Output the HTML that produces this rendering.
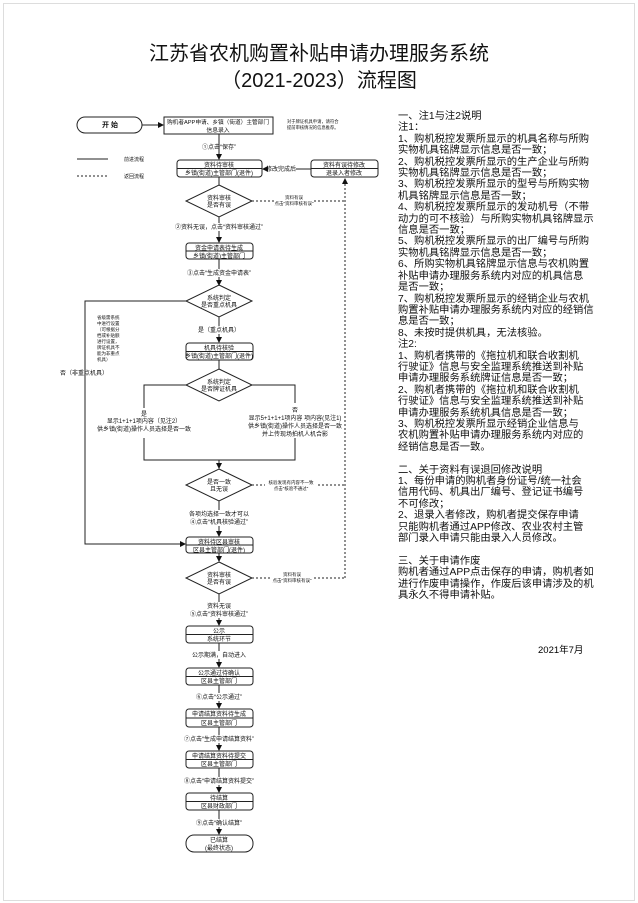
<!DOCTYPE html>
<html><head><meta charset="utf-8"><style>
html,body{margin:0;padding:0;background:#fff;}
body{width:638px;height:903px;position:relative;overflow:hidden;font-family:"Liberation Sans","Noto Sans CJK SC",sans-serif;}
.frame{position:absolute;left:3px;top:3px;width:630px;height:896px;border:1px solid #ddd;}
.t1{position:absolute;left:0;width:638px;text-align:center;font-size:20px;color:#111;}
.notes{position:absolute;left:398px;top:111px;width:215px;font-size:10.3px;line-height:11.4px;color:#111;white-space:pre;}
</style></head><body>
<div class="frame"></div>
<div class="t1" style="top:37px;">江苏省农机购置补贴申请办理服务系统</div>
<div class="t1" style="top:64px;">（2021-2023）流程图</div>
<div class="notes">一、注1与注2说明
注1：
1、购机税控发票所显示的机具名称与所购
实物机具铭牌显示信息是否一致；
2、购机税控发票所显示的生产企业与所购
实物机具铭牌显示信息是否一致；
3、购机税控发票所显示的型号与所购实物
机具铭牌显示信息是否一致；
4、购机税控发票所显示的发动机号（不带
动力的可不核验）与所购实物机具铭牌显示
信息是否一致；
5、购机税控发票所显示的出厂编号与所购
实物机具铭牌显示信息是否一致；
6、所购实物机具铭牌显示信息与农机购置
补贴申请办理服务系统内对应的机具信息
是否一致；
7、购机税控发票所显示的经销企业与农机
购置补贴申请办理服务系统内对应的经销信
息是否一致；
8、未按时提供机具，无法核验。
注2:
1、购机者携带的《拖拉机和联合收割机
行驶证》信息与安全监理系统推送到补贴
申请办理服务系统牌证信息是否一致；
2、购机者携带的《拖拉机和联合收割机
行驶证》信息与安全监理系统推送到补贴
申请办理服务系统机具信息是否一致；
3、购机税控发票所显示经销企业信息与
农机购置补贴申请办理服务系统内对应的
经销信息是否一致。

二、关于资料有误退回修改说明
1、每份申请的购机者身份证号/统一社会
信用代码、机具出厂编号、登记证书编号
不可修改；
2、退录入者修改，购机者提交保存申请
只能购机者通过APP修改、农业农村主管
部门录入申请只能由录入人员修改。

三、关于申请作废
购机者通过APP点击保存的申请，购机者如
进行作废申请操作，作废后该申请涉及的机
具永久不得申请补贴。</div>
<div style="position:absolute;left:538px;top:642px;font-size:9.5px;">2021年7月</div>
<svg width="638" height="903" style="position:absolute;left:0;top:0" font-family="Liberation Sans, Noto Sans CJK SC, sans-serif">
<defs><marker id="a" markerWidth="6" markerHeight="6" refX="5" refY="3" orient="auto"><path d="M0,0L6,3L0,6z" fill="#111"/></marker></defs>
<g stroke="#222" stroke-width="1" fill="none">
<rect x="77" y="117" width="65" height="16" rx="8"/>
<rect x="164" y="117" width="109" height="17"/>
<line x1="142" y1="125" x2="163" y2="125" marker-end="url(#a)"/>
<line x1="77" y1="159" x2="108" y2="159"/>
<line x1="77" y1="176" x2="108" y2="176" stroke-dasharray="2,2"/>
<line x1="219" y1="134" x2="219" y2="159" marker-end="url(#a)"/>
<rect x="177" y="160" width="85" height="17" rx="3"/><line x1="177" y1="168.5" x2="262" y2="168.5"/>
<rect x="311" y="160" width="67" height="17" rx="3"/><line x1="311" y1="168.5" x2="378" y2="168.5"/>
<line x1="311" y1="169" x2="296" y2="169"/><line x1="266" y1="169" x2="263" y2="169" marker-end="url(#a)"/>
<line x1="219" y1="177" x2="219" y2="185"/>
<polygon points="219,185 252,201 219,217 186,201"/>
<line x1="252" y1="201" x2="275" y2="201" stroke-dasharray="2,2"/><line x1="314" y1="201" x2="345" y2="201" stroke-dasharray="2,2"/>
<line x1="345" y1="578" x2="345" y2="179" stroke-dasharray="2,2" marker-end="url(#a)"/>
<line x1="219" y1="217" x2="219" y2="223"/><line x1="219" y1="231" x2="219" y2="242" marker-end="url(#a)"/>
<rect x="186" y="243" width="67" height="16" rx="3"/><line x1="186" y1="251" x2="253" y2="251"/>
<line x1="219" y1="259" x2="219" y2="269"/><line x1="219" y1="277" x2="219" y2="285" marker-end="url(#a)"/>
<polygon points="219,285 252,301 219,317 186,301"/>
<polyline points="186,301 85,301 85,544 185,544" marker-end="url(#a)"/>
<line x1="219" y1="317" x2="219" y2="326"/><line x1="219" y1="334" x2="219" y2="342" marker-end="url(#a)"/>
<rect x="186" y="343" width="67" height="17" rx="3"/><line x1="186" y1="351.5" x2="253" y2="351.5"/>
<line x1="219" y1="360" x2="219" y2="369"/>
<polygon points="219,369 252,385 219,401 186,385"/>
<polyline points="186,385 144,385 144,408"/><polyline points="144,438 144,460 295,460 295,438"/><polyline points="295,403 295,385 252,385"/>
<line x1="219" y1="460" x2="219" y2="468" marker-end="url(#a)"/>
<polygon points="219,469 252,485 219,501 186,485"/>
<line x1="252" y1="485" x2="265" y2="485" stroke-dasharray="2,2"/><line x1="318" y1="485" x2="345" y2="485" stroke-dasharray="2,2"/>
<line x1="219" y1="501" x2="219" y2="510"/><line x1="219" y1="526" x2="219" y2="536" marker-end="url(#a)"/>
<rect x="186" y="537" width="67" height="16" rx="3"/><line x1="186" y1="545" x2="253" y2="545"/>
<line x1="219" y1="553" x2="219" y2="561" marker-end="url(#a)"/>
<polygon points="219,562 252,578 219,594 186,578"/>
<line x1="252" y1="578" x2="270" y2="578" stroke-dasharray="2,2"/><line x1="314" y1="578" x2="345" y2="578" stroke-dasharray="2,2"/>
<line x1="219" y1="594" x2="219" y2="602"/><line x1="219" y1="618" x2="219" y2="625" marker-end="url(#a)"/>
<rect x="186" y="626" width="67" height="17" rx="3"/><line x1="186" y1="634.5" x2="253" y2="634.5"/>
<line x1="219" y1="643" x2="219" y2="651"/><line x1="219" y1="659" x2="219" y2="667" marker-end="url(#a)"/>
<rect x="186" y="668" width="67" height="17" rx="3"/><line x1="186" y1="676.5" x2="253" y2="676.5"/>
<line x1="219" y1="685" x2="219" y2="693"/><line x1="219" y1="701" x2="219" y2="708" marker-end="url(#a)"/>
<rect x="186" y="709" width="67" height="18" rx="3"/><line x1="186" y1="718" x2="253" y2="718"/>
<line x1="219" y1="727" x2="219" y2="735"/><line x1="219" y1="743" x2="219" y2="750" marker-end="url(#a)"/>
<rect x="186" y="751" width="67" height="17" rx="3"/><line x1="186" y1="759.5" x2="253" y2="759.5"/>
<line x1="219" y1="768" x2="219" y2="777"/><line x1="219" y1="785" x2="219" y2="792" marker-end="url(#a)"/>
<rect x="186" y="793" width="67" height="17" rx="3"/><line x1="186" y1="801.5" x2="253" y2="801.5"/>
<line x1="219" y1="810" x2="219" y2="819"/><line x1="219" y1="827" x2="219" y2="834" marker-end="url(#a)"/>
<rect x="186" y="835" width="67" height="17" rx="8"/>
</g>
<g font-size="6" fill="#111" text-anchor="middle">
<text x="110" y="127" font-size="7" font-weight="bold">开 始</text>
<text x="218" y="124" font-size="5.8" textLength="102" lengthAdjust="spacingAndGlyphs">购机者APP申请、乡镇（街道）主管部门</text>
<text x="218" y="132" font-size="5.8">信息录入</text>
<text x="287" y="123" font-size="4.3" text-anchor="start">对于牌证机具申请，请符合</text>
<text x="287" y="129" font-size="4.3" text-anchor="start">提前审核情况的信息推荐。</text>
<text x="124" y="161" font-size="5" text-anchor="start">前进流程</text>
<text x="124" y="178" font-size="5" text-anchor="start">返回流程</text>
<text x="219" y="149">①点击“保存”</text>
<text x="219" y="167">资料待审核</text><text x="219" y="175">乡镇(街道)主管部门(退件)</text>
<text x="344" y="167">资料有误待修改</text><text x="344" y="175">退录入者修改</text>
<text x="281" y="171">修改完成后</text>
<text x="219" y="200">资料审核</text><text x="219" y="207">是否有误</text>
<text x="294" y="199" font-size="4.5">资料有误</text><text x="294" y="205" font-size="4.5">点击“资料审核有误”</text>
<text x="219" y="229">②资料无误，点击“资料审核通过”</text>
<text x="219" y="250">资金申请表待生成</text><text x="219" y="258">乡镇(街道)主管部门</text>
<text x="219" y="275">③点击“生成资金申请表”</text>
<text x="219" y="300">系统判定</text><text x="219" y="307">是否重点机具</text>
<g font-size="4.5" text-anchor="start"><text x="97" y="319">省级需系统</text><text x="97" y="325">中进行设置</text><text x="97" y="331">（可根据分</text><text x="97" y="337">档或补贴额</text><text x="97" y="343">进行设置，</text><text x="97" y="349">牌证机具不</text><text x="97" y="355">能为非重点</text><text x="97" y="361">机具）</text></g>
<text x="84" y="375">否（非重点机具）</text>
<text x="219" y="332">是（重点机具）</text>
<text x="219" y="350">机具待核验</text><text x="219" y="358">乡镇(街道)主管部门(退件)</text>
<text x="219" y="384">系统判定</text><text x="219" y="391">是否牌证机具</text>
<text x="144" y="416">是</text><text x="144" y="423">显示1+1+1项内容（见注2）</text><text x="144" y="431">供乡镇(街道)操作人员选择是否一致</text>
<text x="295" y="412">否</text><text x="295" y="420">显示5+1+1+1项内容 项内容(见注1)</text><text x="295" y="428">供乡镇(街道)操作人员选择是否一致</text><text x="295" y="436">并上传现场拍机人机合影</text>
<text x="219" y="484">是否一致</text><text x="219" y="491">且无误</text>
<text x="291" y="484" font-size="4.5">核验发现有内容不一致</text><text x="291" y="490" font-size="4.5">点击“核验不通过”</text>
<text x="219" y="516">各项均选择一致才可以</text><text x="219" y="524">④点击“机具核验通过”</text>
<text x="219" y="544">资料待区县审核</text><text x="219" y="552">区县主管部门(退件)</text>
<text x="219" y="577">资料审核</text><text x="219" y="584">是否有误</text>
<text x="292" y="576" font-size="4.5">资料有误</text><text x="292" y="582" font-size="4.5">点击“资料审核有误”</text>
<text x="219" y="608">资料无误</text><text x="219" y="616">⑤点击“资料审核通过”</text>
<text x="219" y="633">公示</text><text x="219" y="641">系统环节</text>
<text x="219" y="657">公示期满，自动进入</text>
<text x="219" y="675">公示通过待确认</text><text x="219" y="683">区县主管部门</text>
<text x="219" y="699">⑥点击“公示通过”</text>
<text x="219" y="716">申请结算资料待生成</text><text x="219" y="725">区县主管部门</text>
<text x="219" y="741">⑦点击“生成申请结算资料”</text>
<text x="219" y="758">申请结算资料待提交</text><text x="219" y="766">区县主管部门</text>
<text x="219" y="783">⑧点击“申请结算资料提交”</text>
<text x="219" y="800">待结算</text><text x="219" y="808">区县财政部门</text>
<text x="219" y="825">⑨点击“确认结算”</text>
<text x="219" y="842">已结算</text><text x="219" y="850">(最终状态)</text>
</g>
</svg>
</body></html>
